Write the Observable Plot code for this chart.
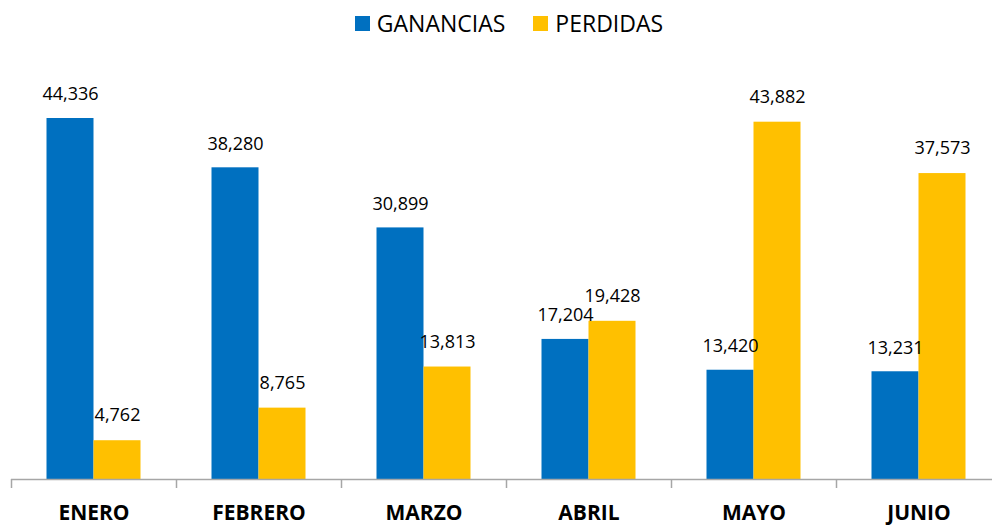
<!DOCTYPE html>
<html><head><meta charset="utf-8">
<script src="https://cdn.jsdelivr.net/npm/d3@7"></script>
<script src="https://cdn.jsdelivr.net/npm/@observablehq/plot@0.6"></script>
<style>
body{margin:0;background:#fff;font-family:"Open Sans",sans-serif;}
#legend{height:45px;display:flex;justify-content:center;align-items:center;gap:28px;font-size:23px;color:#000;padding-left:26px;padding-top:1px;box-sizing:border-box;}
#legend span.item{display:flex;align-items:center;}
#legend i{display:inline-block;width:15px;height:15px;margin-right:7px;}
</style></head>
<body>
<div id="legend"></div>
<div id="chart"></div>
<script>
const months = ["ENERO","FEBRERO","MARZO","ABRIL","MAYO","JUNIO"];
const series = ["GANANCIAS","PERDIDAS"];
const colors = ["#0070C0","#FFC000"];
const ganancias = [44336,38280,30899,17204,13420,13231];
const perdidas = [4762,8765,13813,19428,43882,37573];

const data = [];
months.forEach((m,i)=>{
  data.push({month:m, serie:series[0], value:ganancias[i]});
  data.push({month:m, serie:series[1], value:perdidas[i]});
});

const leg = document.getElementById("legend");
series.forEach((s,i)=>{
  const it = document.createElement("span"); it.className="item";
  it.innerHTML = `<i style="background:${colors[i]}"></i>${s}`;
  leg.appendChild(it);
});

const fmt = d3.format(",");
const band = 165, bw = 47, outer = (band - 2*bw)/2;

const chart = Plot.plot({
  width: 992, height: 480,
  marginLeft: 11, marginRight: 0, marginTop: 0, marginBottom: 46,
  style: {fontFamily: "Open Sans, sans-serif", background: "#fff"},
  x: {domain: months, range: [11, 1001], padding: 0, label: null},
  y: {domain: [0, 44336], range: [434, 73], axis: null},
  color: {domain: series, range: colors},
  marks: [
    Plot.barY(data.filter(d=>d.serie===series[0]), {x:"month", y:"value", fill:"serie", insetLeft: outer, insetRight: band-outer-bw}),
    Plot.barY(data.filter(d=>d.serie===series[1]), {x:"month", y:"value", fill:"serie", insetLeft: outer+bw, insetRight: outer}),
    Plot.text(data.filter(d=>d.serie===series[0]), {x:"month", y:"value", text: d=>fmt(d.value), dx: -(bw/2), dy: -24, fontSize: 18, fill: "#000"}),
    Plot.text(data.filter(d=>d.serie===series[1]), {x:"month", y:"value", text: d=>fmt(d.value), dx: bw/2, dy: -25, fontSize: 18, fill: "#000"}),
    Plot.ruleY([0], {stroke: "#A6A6A6", strokeWidth: 1.5}),
    Plot.axisX({ticks: months, tickSize: 9, tickFormat: () => "", dx: -band/2, stroke: "#A6A6A6", strokeWidth: 1.5}),
    Plot.axisX({ticks: months, tickSize: 0, tickPadding: 26, fontSize: 21, fontWeight: "bold", fill: "#000", label: null})
  ]
});
document.getElementById("chart").appendChild(chart);
</script>
</body></html>
